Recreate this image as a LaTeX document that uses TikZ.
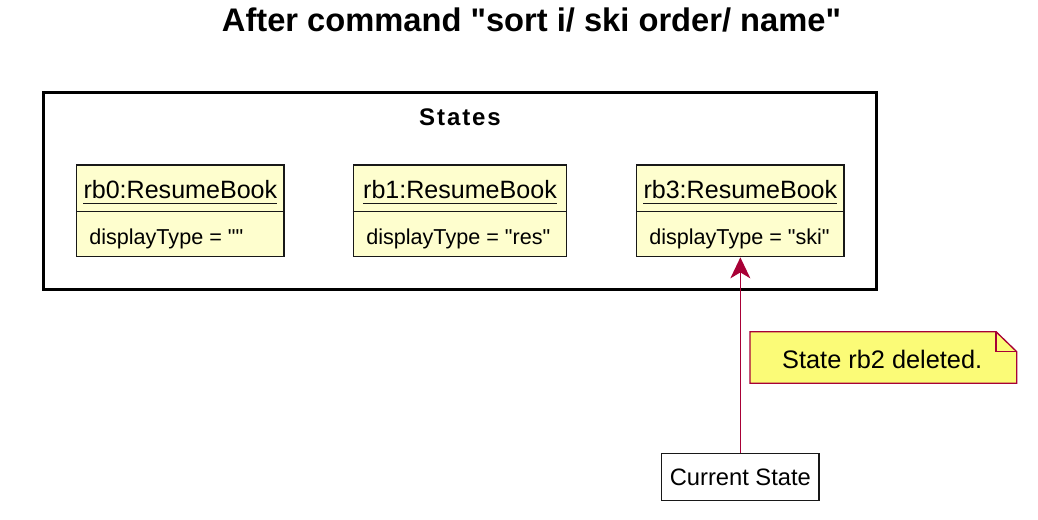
\documentclass[tikz,border=0pt]{standalone}
\usepackage{fontspec}
\setmainfont{Liberation Sans}[Ligatures=TeXOff]
\newfontfamily\statesfont[LetterSpace=8,Ligatures=TeXOff]{Liberation Sans}
\usetikzlibrary{arrows.meta}
\definecolor{classfill}{HTML}{FEFECE}
\definecolor{classline}{HTML}{181818}
\definecolor{notefill}{HTML}{FBFB77}
\definecolor{plumred}{HTML}{A80036}
\begin{document}
\begin{tikzpicture}[x=0.75pt,y=-0.75pt,
  classbox/.style={draw=classline, fill=classfill, line width=1pt, minimum height=68.8pt, inner sep=0pt},
  nametext/.style={anchor=base, inner sep=0pt, font=\fontsize{18.8pt}{22pt}\selectfont},
  attrtext/.style={anchor=base west, inner sep=0pt, font=\fontsize{16.2pt}{19pt}\selectfont},
  uline/.style={draw=classline, line width=0.9pt},
  sepline/.style={draw=classline, line width=1pt},
  notetext/.style={anchor=base, inner sep=0pt, font=\fontsize{19pt}{22pt}\selectfont},
  link/.style={draw=plumred, line width=1.2pt, -{Stealth[length=15.75pt,width=15pt,inset=4.5pt]}}
]
\useasboundingbox (0,0) rectangle (1038,520);
% title
\node[anchor=base, inner sep=0pt, font=\bfseries\fontsize{24.5pt}{28pt}\selectfont] (title) at (531.5,32) {After command "sort i/ ski order/ name"};
% frame
\node[draw=black, line width=2.25pt, minimum width=624.75pt, minimum height=147.75pt, inner sep=0pt] (states) at (460,191) {};
\node[anchor=base, inner sep=0pt, font=\statesfont\bfseries\fontsize{18pt}{21pt}\selectfont] (stateslabel) at (460,126) {States};
% rb0
\node[classbox, minimum width=155.5pt] (rb0) at (180.35,210.85) {};
\node[nametext] (n0) at (180.35,198.3) {rb0:ResumeBook};
\draw[uline] ([yshift=-3.75pt]n0.base west) -- ([yshift=-3.75pt]n0.base east);
\draw[sepline] ([yshift=-35.6pt]rb0.north west) -- ([yshift=-35.6pt]rb0.north east);
\node[attrtext] (a0) at (89,244) {displayType = ""};
% rb1
\node[classbox, minimum width=160pt] (rb1) at (460,210.85) {};
\node[nametext] (n1) at (460,198.3) {rb1:ResumeBook};
\draw[uline] ([yshift=-3.75pt]n1.base west) -- ([yshift=-3.75pt]n1.base east);
\draw[sepline] ([yshift=-35.6pt]rb1.north west) -- ([yshift=-35.6pt]rb1.north east);
\node[attrtext] (a1) at (366,244) {displayType = "res"};
% rb3
\node[classbox, minimum width=155.5pt] (rb3) at (740.35,210.85) {};
\node[nametext] (n3) at (740.35,198.3) {rb3:ResumeBook};
\draw[uline] ([yshift=-3.75pt]n3.base west) -- ([yshift=-3.75pt]n3.base east);
\draw[sepline] ([yshift=-35.6pt]rb3.north west) -- ([yshift=-35.6pt]rb3.north east);
\node[attrtext] (a3) at (649,244) {displayType = "ski"};
% current state
\node[draw=classline, fill=white, line width=1pt, minimum width=118pt, minimum height=35.5pt, inner sep=0pt, font=\fontsize{17.8pt}{21pt}\selectfont] (cur) at (740.35,477) {Current State};
% note
\draw[draw=plumred, fill=notefill, line width=1pt] (750,331.7) -- (996,331.7) -- (1016.7,351.7) -- (1016.7,383.3) -- (750,383.3) -- cycle;
\draw[draw=plumred, line width=1pt] (996,331.7) -- (996,351.7) -- (1016.7,351.7);
\node[notetext] (note) at (882.2,368) {State rb2 deleted.};
% arrow
\draw[link] (cur.north) -- (rb3.south);
\end{tikzpicture}
\end{document}
